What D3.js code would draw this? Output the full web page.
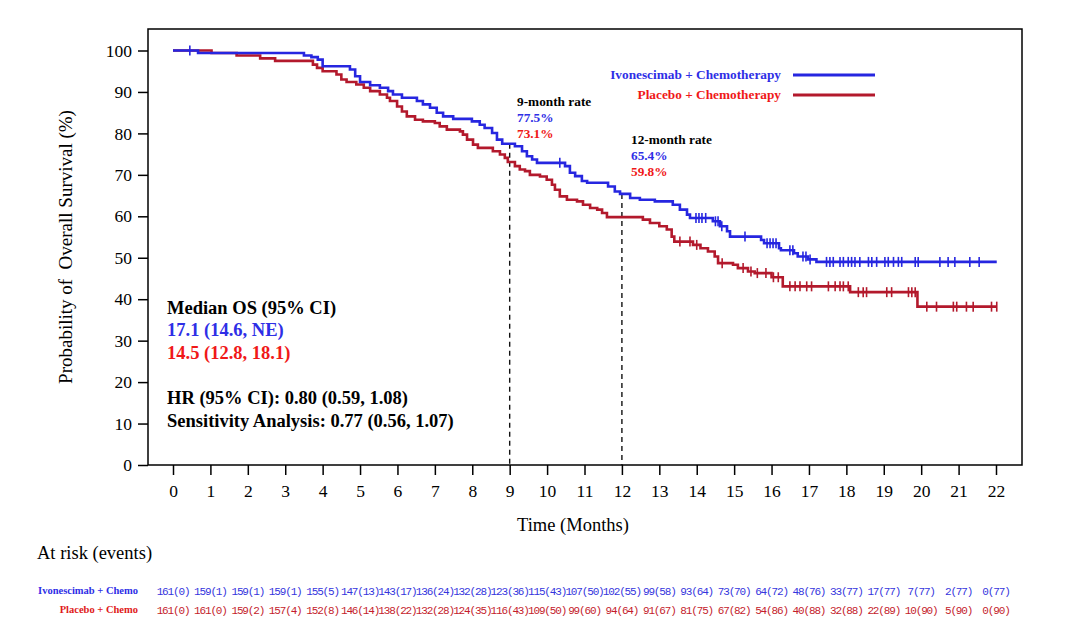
<!DOCTYPE html>
<html>
<head>
<meta charset="utf-8">
<script src="https://cdn.jsdelivr.net/npm/d3@7"></script>
<style>
  html, body { margin: 0; padding: 0; background: #fff; }
  svg { display: block; }
</style>
</head>
<body>
<svg id="chart" width="1069" height="633"></svg>
<script>
// ---------------- DATA ----------------
const timeTicks = [0,1,2,3,4,5,6,7,8,9,10,11,12,13,14,15,16,17,18,19,20,21,22];
const survTicks = [0,10,20,30,40,50,60,70,80,90,100];

// Ivonescimab + Chemotherapy: step times (months) and survival (%)
const ivoTime = [0,0.67,3.5,3.7,3.87,4.0,4.73,4.87,5.0,5.27,5.53,5.75,5.88,6.12,6.52,6.68,6.87,7.05,7.22,7.49,7.99,8.2,8.33,8.53,8.66,8.8,9.14,9.33,9.46,9.6,9.73,10.48,10.61,10.75,10.93,11.07,11.63,11.81,11.95,12.22,12.48,12.88,13.36,13.55,13.74,13.82,14.43,14.62,14.81,14.89,15.72,15.8,16.2,16.25,16.6,16.7,16.97,17.2];
const ivoSurv = [100,99.4,98.8,98.4,97.8,96.2,95.4,93.8,92.4,91.6,91.0,90.2,89.4,88.6,87.8,87.0,86.2,85.0,84.1,83.5,82.9,82.1,81.3,80.1,78.5,77.5,76.9,75.7,74.5,73.7,72.9,72.1,70.5,69.7,68.5,68.1,67.2,66.0,65.4,64.4,64.0,63.6,62.8,61.6,60.4,59.6,58.8,57.6,56.4,55.1,54.3,53.5,52.3,51.8,51.1,50.3,49.6,49.0];
const ivoCensor = [0.45,10.34,13.98,14.06,14.14,14.24,14.5,14.57,14.67,15.29,15.88,15.96,16.04,16.12,16.49,16.57,16.84,16.92,17.03,17.47,17.56,17.65,17.83,17.92,18.05,18.14,18.23,18.36,18.59,18.68,18.81,19.03,19.12,19.26,19.39,19.48,19.84,19.92,20.5,20.72,20.9,21.3,21.55];
const ivoEnd = 22.02;

// Placebo + Chemotherapy
const plaTime = [0,1.03,1.7,2.33,2.73,3.74,3.85,4.0,4.37,4.5,4.64,4.9,5.1,5.27,5.53,5.72,5.8,5.99,6.12,6.25,6.47,6.68,7.0,7.13,7.32,7.67,7.75,7.86,8.02,8.15,8.55,8.74,8.87,8.95,9.14,9.27,9.41,9.54,9.81,9.99,10.13,10.21,10.34,10.53,10.8,10.96,11.15,11.34,11.47,11.6,12.56,12.75,13.0,13.2,13.33,13.4,13.9,14.1,14.3,14.48,14.57,14.97,15.1,15.37,15.55,16.0,16.3,18.1,19.9];
const plaSurv = [100,99.4,98.8,98.1,97.5,96.6,95.8,95.0,94.2,93.0,92.4,91.8,91.0,90.2,89.4,88.6,87.8,86.5,85.3,84.1,83.3,82.9,82.5,81.7,80.9,80.5,79.7,78.5,77.3,76.5,75.7,74.9,74.1,73.1,72.1,71.3,70.9,70.0,69.6,68.8,67.6,66.4,64.8,64.0,63.6,62.8,62.0,61.6,60.8,59.8,59.2,58.4,57.6,56.8,55.1,53.9,53.1,52.3,51.5,50.3,48.7,48.3,47.5,46.7,46.3,45.3,43.1,41.7,38.2];
const plaCensor = [13.55,13.82,14.0,14.68,15.24,15.45,15.62,15.85,16.05,16.18,16.49,16.63,16.76,16.94,17.07,17.52,17.7,17.83,17.92,18.05,18.32,18.45,18.54,19.08,19.21,19.66,19.75,19.84,20.15,20.41,20.86,20.95,21.21,21.39,21.88,22.02];
const plaEnd = 22.02;

// Landmark rates
const landmarkTimes = [9, 12];
const landmarkIvo = ["77.5%", "65.4%"];
const landmarkPla = ["73.1%", "59.8%"];
const landmarkIvoValue = [77.5, 65.4];

// Number at risk (events)
const ivoAtRisk = [161,159,159,159,155,147,143,136,132,123,115,107,102,99,93,73,64,48,33,17,7,2,0];
const ivoEvents = [0,1,1,1,5,13,17,24,28,36,43,50,55,58,64,70,72,76,77,77,77,77,77];
const plaAtRisk = [161,161,159,157,152,146,138,132,124,116,109,99,94,91,81,67,54,40,32,22,10,5,0];
const plaEvents = [0,0,2,4,8,14,22,28,35,43,50,60,64,67,75,82,86,88,88,89,90,90,90];

const seriesNames = ["Ivonescimab + Chemotherapy", "Placebo + Chemotherapy"];
const riskNames = ["Ivonescimab + Chemo", "Placebo + Chemo"];

// ---------------- STYLE ----------------
const BLUE_LINE = "#2626e0";
const RED_LINE = "#b3192c";
const BLUE_TEXT = "#2e2ee6";
const RED_TEXT = "#f01818";
const SERIF = "'Liberation Serif', 'Times New Roman', serif";

const svg = d3.select("#chart");
const frame = {left: 148, right: 1022, top: 29, bottom: 465};

const x = d3.scaleLinear().domain([0, 22]).range([173, 996]);
const y = d3.scaleLinear().domain([0, 100]).range([465, 50.5]);

// frame
svg.append("rect")
  .attr("x", frame.left).attr("y", frame.top)
  .attr("width", frame.right - frame.left).attr("height", frame.bottom - frame.top)
  .attr("fill", "none").attr("stroke", "#000").attr("stroke-width", 1.5);

// y axis
const yAxis = d3.axisLeft(y).tickValues(survTicks).tickSize(10).tickPadding(6).tickFormat(d3.format("d"));
const gy = svg.append("g").attr("transform", `translate(${frame.left},0)`).call(yAxis);
gy.select(".domain").remove();
gy.selectAll("line").attr("stroke", "#000").attr("stroke-width", 1.5);
gy.selectAll("text").attr("font-family", SERIF).attr("font-size", 17.5).attr("fill", "#000");

// x axis
const xAxis = d3.axisBottom(x).tickValues(timeTicks).tickSize(10).tickPadding(10).tickFormat(d3.format("d"));
const gx = svg.append("g").attr("transform", `translate(0,${frame.bottom})`).call(xAxis);
gx.select(".domain").remove();
gx.selectAll("line").attr("stroke", "#000").attr("stroke-width", 1.5);
gx.selectAll("text").attr("font-family", SERIF).attr("font-size", 17.5).attr("fill", "#000");

// axis titles
svg.append("text").attr("x", 573).attr("y", 531).attr("text-anchor", "middle")
  .attr("font-family", SERIF).attr("font-size", 18.5).text("Time (Months)");
svg.append("text")
  .attr("transform", `translate(72,247) rotate(-90)`)
  .attr("text-anchor", "middle").style("white-space", "pre")
  .attr("font-family", SERIF).attr("font-size", 19).text("Probability of  Overall Survival (%)");

// dashed landmark lines
landmarkTimes.forEach((t, i) => {
  svg.append("line")
    .attr("x1", x(t)).attr("x2", x(t))
    .attr("y1", y(landmarkIvoValue[i])).attr("y2", frame.bottom)
    .attr("stroke", "#111").attr("stroke-width", 1.4).attr("stroke-dasharray", "5,4");
});

// curves
function drawCurve(times, surv, censor, end, color) {
  const pts = times.map((t, i) => [t, surv[i]]);
  pts.push([end, surv[surv.length - 1]]);
  const line = d3.line().x(d => x(d[0])).y(d => y(d[1])).curve(d3.curveStepAfter);
  svg.append("path").datum(pts).attr("d", line)
    .attr("fill", "none").attr("stroke", color).attr("stroke-width", 2.6);
  const sAt = t => {
    let v = surv[0];
    for (let i = 0; i < times.length; i++) if (times[i] <= t) v = surv[i];
    return v;
  };
  svg.append("g").selectAll("line").data(censor).join("line")
    .attr("x1", d => x(d)).attr("x2", d => x(d))
    .attr("y1", d => y(sAt(d)) - 5).attr("y2", d => y(sAt(d)) + 5)
    .attr("stroke", color).attr("stroke-width", 1.6);
}
drawCurve(plaTime, plaSurv, plaCensor, plaEnd, RED_LINE);
drawCurve(ivoTime, ivoSurv, ivoCensor, ivoEnd, BLUE_LINE);

// legend
const legendY = [75, 95];
const legendColors = [BLUE_LINE, RED_LINE];
const legendText = [BLUE_TEXT, RED_TEXT];
seriesNames.forEach((n, i) => {
  svg.append("text").attr("x", 781).attr("y", legendY[i] + 4).attr("text-anchor", "end")
    .attr("font-family", SERIF).attr("font-weight", "bold").attr("font-size", 13.3)
    .attr("fill", legendText[i]).text(n);
  svg.append("line").attr("x1", 793).attr("x2", 875).attr("y1", legendY[i]).attr("y2", legendY[i])
    .attr("stroke", legendColors[i]).attr("stroke-width", 3);
});

// landmark annotations
const annX = [517, 631];
const annY = [106, 144];
landmarkTimes.forEach((t, i) => {
  const g = svg.append("g").attr("font-family", SERIF).attr("font-weight", "bold").attr("font-size", 13.3);
  g.append("text").attr("x", annX[i]).attr("y", annY[i]).attr("fill", "#000").text(`${t}-month rate`);
  g.append("text").attr("x", annX[i]).attr("y", annY[i] + 16).attr("fill", BLUE_TEXT).text(landmarkIvo[i]);
  g.append("text").attr("x", annX[i]).attr("y", annY[i] + 32).attr("fill", RED_TEXT).text(landmarkPla[i]);
});

// Median OS / HR block
const stats = [
  {t: "Median OS (95% CI)", c: "#000", y: 314},
  {t: "17.1 (14.6, NE)", c: BLUE_TEXT, y: 336},
  {t: "14.5 (12.8, 18.1)", c: RED_TEXT, y: 359},
  {t: "HR (95% CI): 0.80 (0.59, 1.08)", c: "#000", y: 404},
  {t: "Sensitivity Analysis: 0.77 (0.56, 1.07)", c: "#000", y: 427}
];
svg.append("g").selectAll("text").data(stats).join("text")
  .attr("x", 167).attr("y", d => d.y).attr("fill", d => d.c)
  .attr("font-family", SERIF).attr("font-weight", "bold").attr("font-size", 18.5)
  .text(d => d.t);

// At risk table
svg.append("text").attr("x", 37).attr("y", 559).attr("font-family", SERIF).attr("font-size", 18.5)
  .text("At risk (events)");
const rowY = [595, 614];
const rowColors = [BLUE_TEXT, "#e01a1a"];
const rowValueColors = ["#3535dd", "#c41c2c"];
const rows = [[ivoAtRisk, ivoEvents], [plaAtRisk, plaEvents]];
rows.forEach((r, i) => {
  svg.append("text").attr("x", 138).attr("y", rowY[i] - 1).attr("text-anchor", "end")
    .attr("font-family", SERIF).attr("font-weight", "bold").attr("font-size", 10.5)
    .attr("fill", rowColors[i]).text(riskNames[i]);
  svg.append("g").selectAll("text").data(timeTicks).join("text")
    .attr("x", d => x(d)).attr("y", rowY[i]).attr("text-anchor", "middle")
    .attr("font-family", "'Liberation Mono', 'DejaVu Sans Mono', monospace").attr("font-size", 11)
    .attr("letter-spacing", -1.15)
    .attr("fill", rowValueColors[i])
    .text((d, j) => `${r[0][j]}(${r[1][j]})`);
});
</script>
</body>
</html>
